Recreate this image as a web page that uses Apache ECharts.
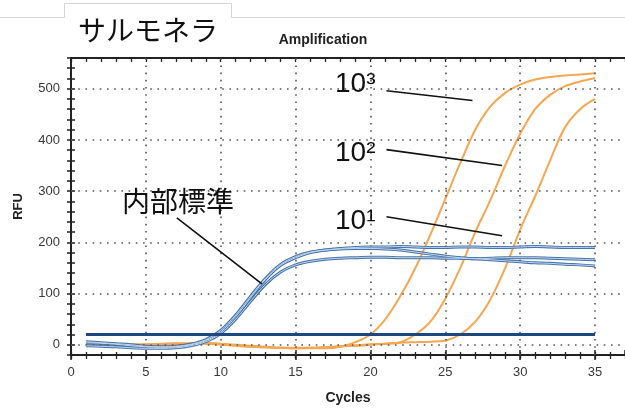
<!DOCTYPE html>
<html>
<head>
<meta charset="utf-8">
<script src="https://cdn.jsdelivr.net/npm/echarts@6/dist/echarts.min.js"></script>
<style>
  html, body { margin: 0; padding: 0; background: #ffffff; }
  #chart { width: 625px; height: 410px; }
</style>
</head>
<body>
<div id="chart"></div>
<script>
// PCR cycles and fluorescence (RFU) readings
const cycles = [1, 2, 3, 4, 5, 6, 7, 8, 9, 10, 11, 12, 13, 14, 15, 16, 17, 18, 19, 20,
                21, 22, 23, 24, 25, 26, 27, 28, 29, 30, 31, 32, 33, 34, 35];

// internal standard (three wells)
const internalA = [4, 3, 1, -2, -4, -5, -4, 0, 8, 25, 55, 92, 128, 155, 170, 180, 185, 188, 190, 191,
                   191, 192, 191, 190, 190, 191, 191, 190, 190, 191, 192, 191, 190, 190, 190];
const internalB = [6, 4, 2, 0, -3, -4, -3, 1, 10, 28, 58, 95, 130, 157, 172, 181, 185, 187, 188, 188,
                   187, 185, 181, 177, 173, 170, 168, 166, 164, 162, 160, 159, 157, 156, 154];
const internalC = [-2, -3, -4, -6, -7, -7, -6, -2, 6, 22, 50, 85, 118, 142, 156, 163, 167, 169, 170, 171,
                   171, 170, 170, 170, 169, 169, 168, 169, 170, 170, 170, 169, 168, 167, 166];

// Salmonella template dilutions (copies)
const salmonella1e3 = [2, 3, 2, 1, 1, 2, 3, 3, 4, 2, 0, -2, -4, -6, -7, -7, -7, -4, 5, 20,
                       50, 95, 150, 215, 285, 355, 420, 465, 492, 508, 518, 523, 526, 528, 530];
const salmonella1e2 = [0, 1, 0, -1, 0, 1, 2, 2, 3, 1, -1, -3, -5, -6, -7, -6, -5, -3, -1, 1,
                       2, 5, 20, 45, 90, 150, 220, 282, 350, 412, 460, 488, 505, 514, 521];
const salmonella1e1 = [1, 0, -1, -1, 0, 1, 1, 2, 2, 0, -2, -4, -5, -6, -6, -6, -5, -3, -2, 0,
                       2, 4, 5, 6, 8, 20, 45, 88, 150, 225, 290, 360, 425, 460, 480];

const thresholdRFU = 20;
const thresholdSpan = [1, 35];

const rfuTicks = [0, 100, 200, 300, 400, 500];
const cycleTicks = [0, 5, 10, 15, 20, 25, 30, 35];

const chart = echarts.init(document.getElementById('chart'), null, { renderer: 'canvas' });

const pairs = vals => cycles.map((c, i) => [c, vals[i]]);

const labelFont = 'Liberation Sans, Arial, sans-serif';
const axisColor = '#222';
const dotStyle = { color: '#555', type: [1.6, 5.6], width: 1.6 };

function xAxisLayer(extra) {
  return Object.assign({
    type: 'value', min: 0, max: 37, position: 'bottom',
    axisLine: { show: false, onZero: false },
    axisLabel: { show: false },
    splitLine: { show: false }
  }, extra);
}
function yAxisLayer(extra) {
  return Object.assign({
    type: 'value', min: -20, max: 560, interval: 20, position: 'left',
    axisLine: { show: false, onZero: false },
    axisLabel: { show: false },
    splitLine: { show: false }
  }, extra);
}

function internalSeries(name, vals) {
  return [
    { name: name, type: 'line', data: pairs(vals), smooth: 0.35, symbol: 'none', z: 4,
      lineStyle: { color: '#4574ad', width: 3 } },
    { name: name + '-core', type: 'line', data: pairs(vals), smooth: 0.35, symbol: 'none', z: 5,
      lineStyle: { color: '#c2d5ea', width: 1 } }
  ];
}
function targetSeries(name, vals) {
  return { name: name, type: 'line', data: pairs(vals), smooth: 0.35, symbol: 'none', z: 3,
           lineStyle: { color: '#f5a650', width: 2 } };
}

chart.setOption({
  animation: false,
  backgroundColor: '#ffffff',
  grid: { left: 71, top: 58, right: -6, bottom: 51, containLabel: false },
  xAxis: [
    xAxisLayer({
      interval: 5,
      axisLine: { show: true, onZero: false, lineStyle: { color: axisColor, width: 2 } },
      axisTick: { show: true, length: 5, lineStyle: { color: axisColor, width: 1.5 } },
      axisLabel: { show: true, showMaxLabel: false, margin: 11, fontSize: 13,
                   color: '#383838', fontFamily: labelFont },
      name: 'Cycles', nameLocation: 'middle', nameGap: 36,
      nameTextStyle: { fontSize: 14, fontWeight: 'bold', color: '#222', fontFamily: labelFont }
    }),
    xAxisLayer({ interval: 5,
      axisTick: { show: true, inside: true, length: 5, lineStyle: { color: axisColor, width: 1.5 } } }),
    xAxisLayer({ interval: 1,
      axisTick: { show: true, length: 4, lineStyle: { color: axisColor, width: 1.3 } } }),
    xAxisLayer({ interval: 1,
      axisTick: { show: true, inside: true, length: 3, lineStyle: { color: axisColor, width: 1.3 } } }),
    xAxisLayer({ interval: 1, position: 'top',
      axisLine: { show: true, onZero: false, lineStyle: { color: axisColor, width: 2 } },
      axisTick: { show: true, inside: true, length: 4, lineStyle: { color: axisColor, width: 1.3 } } })
  ],
  yAxis: [
    yAxisLayer({
      axisLine: { show: true, onZero: false, lineStyle: { color: axisColor, width: 2 } },
      axisTick: { show: true, length: 4, lineStyle: { color: axisColor, width: 1.5 } },
      axisLabel: { show: true, margin: 11, fontSize: 13, color: '#383838', fontFamily: labelFont,
                   formatter: v => (rfuTicks.indexOf(v) >= 0 ? String(v) : '') },
      name: 'RFU', nameLocation: 'middle', nameGap: 46, nameRotate: 90,
      nameTextStyle: { fontSize: 13, fontWeight: 'bold', color: '#222', fontFamily: labelFont }
    }),
    yAxisLayer({
      axisTick: { show: true, inside: true, length: 4, lineStyle: { color: axisColor, width: 1.5 } }
    })
  ],
  series: [
    // dotted reference grid at the labelled ticks
    { name: 'grid', type: 'line', data: [], z: 1, silent: true,
      markLine: {
        silent: true, symbol: 'none', animation: false,
        label: { show: false },
        lineStyle: dotStyle,
        data: rfuTicks.map(v => ({ yAxis: v }))
              .concat(cycleTicks.filter(v => v > 0).map(v => ({ xAxis: v })))
      } },
    targetSeries('10^3', salmonella1e3),
    targetSeries('10^2', salmonella1e2),
    targetSeries('10^1', salmonella1e1),
    ...internalSeries('internal-A', internalA),
    ...internalSeries('internal-B', internalB),
    ...internalSeries('internal-C', internalC),
    { name: 'threshold', type: 'line', symbol: 'none', z: 6,
      data: thresholdSpan.map(c => [c, thresholdRFU]),
      lineStyle: { color: '#1d4781', width: 3 } }
  ]
});

// annotations: headings, dilution labels and their leader lines
const toPx = p => chart.convertToPixel({ xAxisIndex: 0, yAxisIndex: 0 }, p);
function leader(from, to) {
  const a = toPx(from), b = toPx(to);
  return { type: 'line', silent: true, z: 20,
           shape: { x1: a[0], y1: a[1], x2: b[0], y2: b[1] },
           style: { stroke: '#111', lineWidth: 1.6 } };
}
function label(text, x, y, font, extra) {
  return Object.assign({ type: 'text', silent: true, z: 20,
    style: { text: text, x: x, y: y, font: font, fill: '#111',
             align: 'left', verticalAlign: 'middle',
             textAlign: 'left', textVerticalAlign: 'middle' } }, extra || {});
}
const jp = '28px "Noto Sans CJK JP", sans-serif';
const num = '28px "Liberation Sans", Arial, sans-serif';

chart.setOption({
  graphic: [
    { type: 'polyline', silent: true, z: 20,
      shape: { points: [[0, 17.5], [64.5, 17.5], [64.5, 3.5], [231.5, 3.5], [231.5, 17.5], [625, 17.5]] },
      style: { stroke: '#d4d4d4', lineWidth: 1, fill: null } },
    label('サルモネラ', 78, 30, jp),
    { type: 'text', silent: true, z: 20,
      style: { text: 'Amplification', x: 323, y: 40, font: 'bold 14px "Liberation Sans", Arial, sans-serif',
               fill: '#222', align: 'center', verticalAlign: 'middle',
               textAlign: 'center', textVerticalAlign: 'middle' } },
    label('10³', 335, 84, num),
    label('10²', 335, 153, num),
    label('10¹', 335, 221, num),
    label('内部標準', 122, 201, jp),
    leader([21.07, 496], [26.81, 477]),
    leader([21.07, 381], [28.79, 350]),
    leader([21.07, 250], [28.79, 213]),
    leader([7.07, 248], [12.75, 119])
  ]
});
</script>
</body>
</html>
